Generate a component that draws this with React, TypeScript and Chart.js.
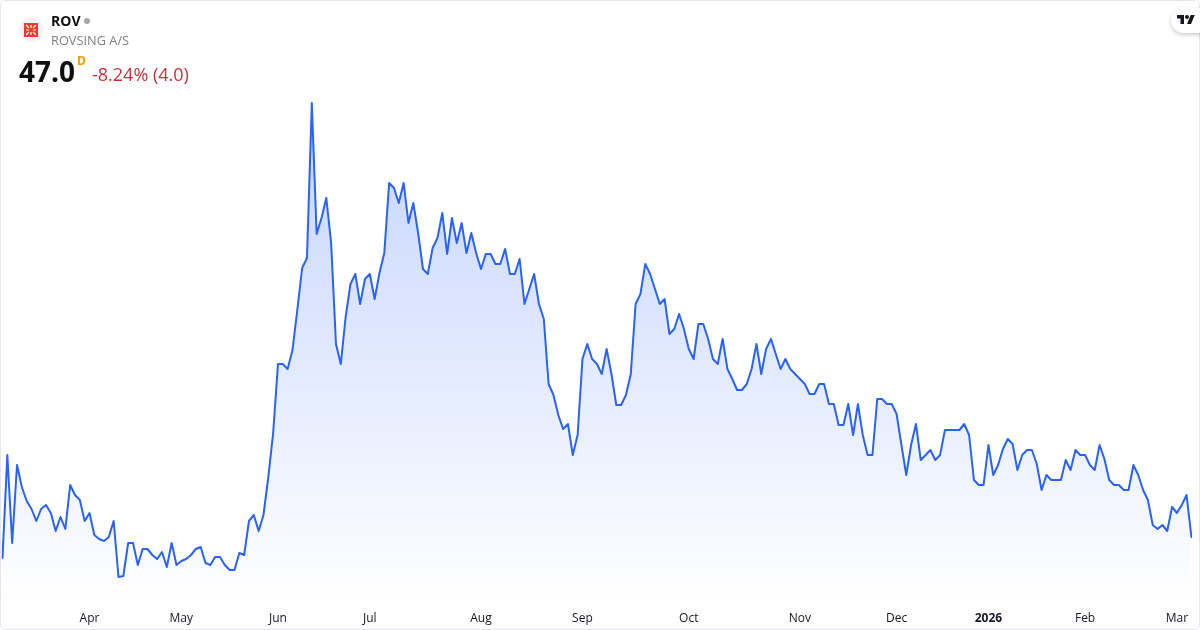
import React, { useEffect, useRef } from "react";
import { Chart, registerables } from "chart.js";

Chart.register(...registerables);

const prices: number[] = [
  44.9, 55.2, 46.4, 54.2, 52.0, 50.6, 49.8, 48.6, 49.8, 50.2, 49.4, 47.6, 49.0, 47.8, 52.2, 51.2, 50.7, 48.6, 49.4, 47.2,
  46.8, 46.6, 47.0, 48.6, 43.0, 43.1, 46.4, 46.4, 44.2, 45.8, 45.8, 45.2, 44.8, 45.5, 44.0, 46.4, 44.2, 44.6, 44.8, 45.2,
  45.8, 46.0, 44.4, 44.2, 45.0, 45.0, 44.2, 43.7, 43.7, 45.4, 45.2, 48.6, 49.2, 47.6, 49.2, 53.0, 57.4, 64.3, 64.3, 63.8,
  65.7, 69.7, 73.9, 74.9, 90.4, 77.3, 78.9, 80.9, 76.4, 66.3, 64.3, 69.0, 72.3, 73.3, 70.3, 72.8, 73.3, 70.8, 73.4, 75.4,
  82.4, 81.9, 80.4, 82.4, 78.4, 80.4, 77.4, 73.8, 73.3, 75.9, 76.9, 79.4, 75.3, 78.9, 76.4, 78.4, 75.4, 77.4, 75.4, 73.8,
  75.3, 75.3, 74.3, 74.3, 75.8, 73.3, 73.3, 74.8, 70.3, 71.8, 73.3, 70.3, 68.8, 62.3, 61.2, 59.2, 57.8, 58.3, 55.2, 57.2,
  64.8, 66.3, 64.8, 64.3, 63.3, 65.8, 63.3, 60.2, 60.2, 61.2, 63.3, 70.3, 71.3, 74.3, 73.3, 71.8, 70.3, 70.8, 67.3, 67.8,
  69.3, 67.8, 65.8, 64.8, 68.3, 68.3, 66.8, 64.8, 64.3, 66.8, 63.8, 62.8, 61.7, 61.7, 62.3, 63.8, 66.3, 63.3, 65.8, 66.8,
  65.3, 63.8, 64.8, 63.8, 63.3, 62.8, 62.3, 61.3, 61.3, 62.3, 62.3, 60.3, 60.3, 58.2, 58.2, 60.3, 57.2, 60.3, 57.2, 55.2,
  55.2, 60.8, 60.8, 60.3, 60.3, 59.3, 56.2, 53.2, 56.2, 58.3, 54.7, 55.2, 55.7, 54.7, 55.2, 57.7, 57.7, 57.7, 57.7, 58.3,
  57.2, 52.7, 52.2, 52.2, 56.2, 53.2, 54.2, 55.8, 56.8, 56.3, 53.7, 55.2, 55.7, 55.7, 54.3, 51.7, 53.2, 52.7, 52.7, 52.7,
  54.7, 53.7, 55.7, 55.2, 55.2, 54.2, 53.7, 56.2, 54.8, 52.7, 52.2, 52.2, 51.7, 51.7, 54.2, 53.2, 51.7, 50.7, 48.2, 47.8,
  48.2, 47.6, 50.0, 49.4, 50.2, 51.2, 47.0,
];

const monthLabels: string[] = ["Apr", "May", "Jun", "Jul", "Aug", "Sep", "Oct", "Nov", "Dec", "2026", "Feb", "Mar"];
const monthIndexes: number[] = [18, 37, 57, 76, 99, 120, 142, 165, 185, 204, 224, 243];

const FONT = '"Open Sans", "Noto Sans", sans-serif';

export default function App() {
  const ref = useRef<HTMLCanvasElement>(null);

  useEffect(() => {
    document.body.style.margin = "0";
    const canvas = ref.current!;
    const labels = prices.map((_, i) => {
      const m = monthIndexes.indexOf(i);
      return m >= 0 ? monthLabels[m] : "";
    });
    const chart = new Chart(canvas, {
      type: "line",
      data: {
        labels,
        datasets: [
          {
            data: prices,
            borderColor: "#2962FF",
            borderWidth: 2,
            borderJoinStyle: "round",
            borderCapStyle: "round",
            pointRadius: 0,
            tension: 0,
            fill: "start",
            backgroundColor: (ctx: any) => {
              const area = ctx.chart.chartArea;
              if (!area) return "rgba(41,98,255,0.2)";
              const g = ctx.chart.ctx.createLinearGradient(0, 102, 0, area.bottom);
              g.addColorStop(0, "rgba(41,98,255,0.28)");
              g.addColorStop(1, "rgba(41,98,255,0)");
              return g;
            },
          },
        ],
      },
      options: {
        responsive: false,
        animation: false,
        layout: { padding: { left: 2.5, right: 8.6, top: 60, bottom: 0 } },
        plugins: { legend: { display: false }, tooltip: { enabled: false } },
        scales: {
          x: {
            type: "category",
            offset: false,
            border: { display: false },
            grid: { display: false, drawTicks: false },
            afterFit: (s: any) => {
              s.height = 26;
              s.paddingLeft = 0;
              s.paddingRight = 0;
            },
            ticks: {
              autoSkip: false,
              maxRotation: 0,
              minRotation: 0,
              padding: 7,
              color: "#131722",
              font: (ctx: any) => ({
                family: FONT,
                size: 12,
                weight: ctx.tick && ctx.tick.label === "2026" ? "bold" : "normal",
              }),
            },
          },
          y: { display: false, min: 40.3, max: 94.7 },
        },
      },
    } as any);
    return () => chart.destroy();
  }, []);

  const text = (style: React.CSSProperties): React.CSSProperties => ({
    position: "absolute",
    fontFamily: FONT,
    whiteSpace: "nowrap",
    lineHeight: 1,
    ...style,
  });

  return (
    <div style={{ position: "relative", width: 1200, height: 630, overflow: "hidden", background: "#fff" }}>
      <canvas ref={ref} width={1200} height={630} style={{ display: "block", position: "absolute", left: 0, top: 0 }} />
      <div
        style={{
          position: "absolute",
          inset: 0,
          boxSizing: "border-box",
          border: "1px solid #e4e6ec",
          borderRadius: 6,
          pointerEvents: "none",
        }}
      />
      <svg width={26} height={26} viewBox="0 0 26 26" style={{ position: "absolute", left: 18, top: 17 }}>
        <circle cx={13} cy={13} r={12} fill="#f0f3fa" />
        <rect x={6} y={6} width={14} height={14} fill="#f7372e" />
        <path d="M8 8l3 3M18 8l-3 3M8 18l3-3M18 18l-3-3M13 8v3M13 15v3M8 13h3M15 13h3" stroke="#fff" strokeWidth={1.2} fill="none" />
      </svg>
      <div style={text({ left: 51, top: 14, fontSize: 14, fontWeight: 700, color: "#0f0f0f" })}>ROV</div>
      <div style={{ position: "absolute", left: 84, top: 18, width: 6, height: 6, borderRadius: 3, background: "#a3a6af" }} />
      <div style={text({ left: 51, top: 34, fontSize: 12.8, color: "#808080" })}>ROVSING A/S</div>
      <div style={text({ left: 19, top: 57, fontSize: 28, fontWeight: 700, color: "#0f0f0f" })}>47.0</div>
      <div style={text({ left: 77, top: 55, fontSize: 12, fontWeight: 700, color: "#ff9800" })}>D</div>
      <div style={text({ left: 92, top: 65, fontSize: 18, color: "#cc2f3c" })}>-8.24% (4.0)</div>
      <div
        style={{
          position: "absolute",
          left: 1171,
          top: 8,
          width: 50,
          height: 25,
          borderRadius: 13,
          background: "#fff",
          boxShadow: "0 2px 4px rgba(0,0,0,0.2)",
        }}
      />
      <svg width={18} height={14} viewBox="0 0 36 28" style={{ position: "absolute", left: 1177, top: 13 }}>
        <path d="M14 22H7V11H0V4h14v18zM28 22h-8l7.5-18h8L28 22z" fill="#131722" />
        <circle cx={20} cy={8} r={4} fill="#131722" />
      </svg>
    </div>
  );
}
